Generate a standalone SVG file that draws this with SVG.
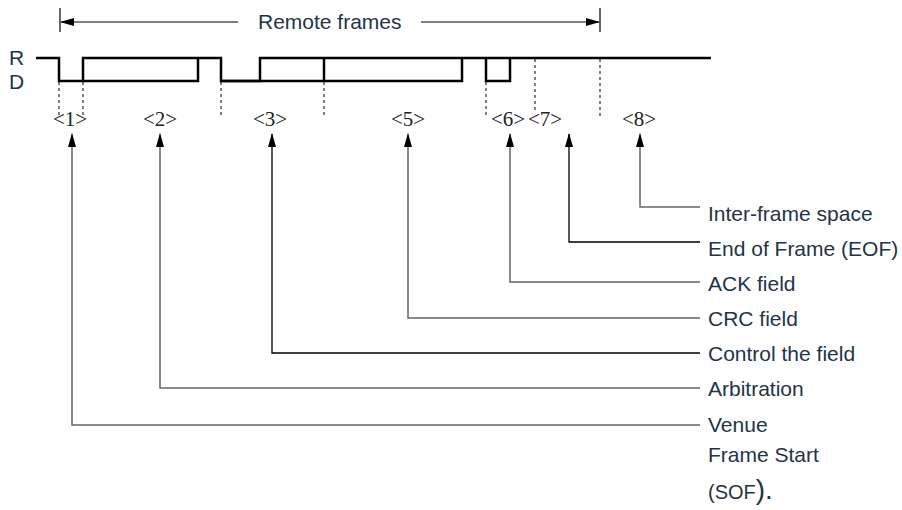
<svg xmlns="http://www.w3.org/2000/svg" width="902" height="510" viewBox="0 0 902 510">
<defs>
<marker id="arr" markerWidth="14" markerHeight="8" refX="13" refY="4" orient="auto-start-reverse" markerUnits="userSpaceOnUse" viewBox="0 0 14 8">
<path d="M0,0 L14,4 L0,8 Z" fill="#000"/>
</marker>
</defs>
<style>
.lbl{font-family:"Liberation Sans",Arial,sans-serif;font-size:21px;fill:#243447}
.num{font-family:"Liberation Serif","Times New Roman",serif;font-size:21px;fill:#222}
.wave{fill:none;stroke:#000;stroke-width:2.5;stroke-linejoin:miter}
.dash{fill:none;stroke:#000;stroke-width:1;stroke-dasharray:3,3}
.conn{fill:none;stroke:#666;stroke-width:1.5}
.connk{fill:none;stroke:#000;stroke-width:1.3}
.thin{fill:none;stroke:#000;stroke-width:1.2}
</style>

<g id="remote-frames">
<line class="thin" x1="60" y1="8" x2="60" y2="32"/>
<line class="thin" x1="600" y1="8" x2="600" y2="32"/>
<line class="thin" x1="61" y1="22" x2="238" y2="22" marker-start="url(#arr)"/>
<line class="thin" x1="421" y1="22" x2="599" y2="22" marker-end="url(#arr)"/>
<text class="lbl" x="258" y="29">Remote frames</text>
</g>

<g id="waveform">
<text class="lbl" x="9" y="65">R</text>
<text class="lbl" x="9" y="89">D</text>
<path class="wave" d="M36,58 H59 V81 H83 V58 H221 V81 H260 V58 H711"/>
<path class="wave" d="M83,81 H198 V58"/>
<path class="wave" d="M221,81 H462 V58"/>
<path class="wave" d="M324,58 V81"/>
<path class="wave" d="M486,58 V81 H510 V58"/>
<line class="dash" x1="59" y1="82" x2="59" y2="117"/>
<line class="dash" x1="83" y1="82" x2="83" y2="117"/>
<line class="dash" x1="221" y1="82" x2="221" y2="117"/>
<line class="dash" x1="324" y1="82" x2="324" y2="117"/>
<line class="dash" x1="486" y1="82" x2="486" y2="118"/>
<line class="dash" x1="535" y1="59" x2="535" y2="113"/>
<line class="dash" x1="600" y1="59" x2="600" y2="118"/>
</g>

<g id="field-numbers">
<text class="num" x="70" y="126" text-anchor="middle">&lt;1&gt;</text>
<text class="num" x="160" y="126" text-anchor="middle">&lt;2&gt;</text>
<text class="num" x="270" y="126" text-anchor="middle">&lt;3&gt;</text>
<text class="num" x="408" y="126" text-anchor="middle">&lt;5&gt;</text>
<text class="num" x="508" y="126" text-anchor="middle">&lt;6&gt;</text>
<text class="num" x="545" y="126" text-anchor="middle">&lt;7&gt;</text>
<text class="num" x="639" y="126" text-anchor="middle">&lt;8&gt;</text>
</g>

<g id="connectors">
<path class="conn" d="M640,134 V207 H700" marker-start="url(#arr)"/>
<path class="connk" d="M569,134 V242 H700" marker-start="url(#arr)"/>
<path class="conn" d="M510,134 V282 H700" marker-start="url(#arr)"/>
<path class="conn" d="M408,134 V318 H700" marker-start="url(#arr)"/>
<path class="connk" d="M272,134 V353 H700" marker-start="url(#arr)"/>
<path class="conn" d="M160,134 V388 H700" marker-start="url(#arr)"/>
<path class="conn" d="M72,134 V425 H700" marker-start="url(#arr)"/>
</g>

<g id="label-8"><text class="lbl" x="708" y="221">Inter-frame space</text></g>
<g id="label-7"><text class="lbl" x="708" y="256">End of Frame (EOF)</text></g>
<g id="label-6"><text class="lbl" x="708" y="291">ACK field</text></g>
<g id="label-5"><text class="lbl" x="708" y="326">CRC field</text></g>
<g id="label-3"><text class="lbl" x="708" y="361">Control the field</text></g>
<g id="label-2"><text class="lbl" x="708" y="396">Arbitration</text></g>
<g id="label-1">
<text class="lbl" x="708" y="432">Venue</text>
<text class="lbl" x="708" y="462">Frame Start</text>
<text class="lbl" x="708" y="499"><tspan font-size="20">(SOF</tspan><tspan font-size="28">).</tspan></text>
</g>
</svg>
